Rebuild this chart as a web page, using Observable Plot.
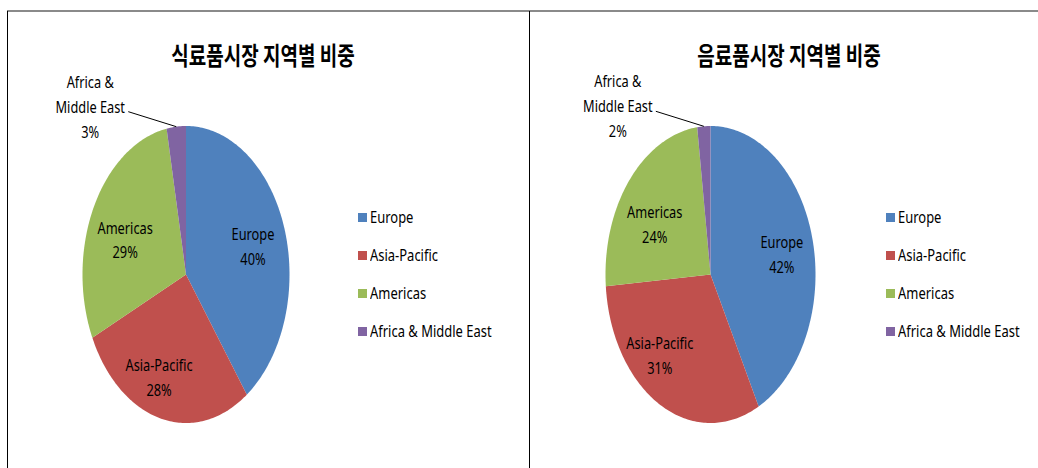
<!DOCTYPE html>
<html>
<head>
<meta charset="utf-8">
<script src="https://cdn.jsdelivr.net/npm/d3@7"></script>
<script src="https://cdn.jsdelivr.net/npm/@observablehq/plot@0.6"></script>
<style>
  body { margin: 0; background: #fff; }
  #page { position: relative; width: 1038px; height: 468px; overflow: hidden; background: #fff;
          font-family: "Noto Sans", "Noto Sans CJK KR", sans-serif; color: #000; }
  .topline { position: absolute; left: 7px; top: 10px; width: 1031px; height: 2px; background: #8a8a8a; }
  .vline { position: absolute; top: 11px; width: 1px; height: 457px; background: #000; }
  .panel { position: absolute; top: 0; }
  .title { position: absolute; top: 36px; font-family: "Noto Sans CJK KR", sans-serif; font-weight: bold;
           font-size: 25px; line-height: 36px; white-space: nowrap; transform: translateX(-50%) scaleX(0.76); }
  .legend-item { position: absolute; height: 20px; display: flex; align-items: center; }
  .legend-item .sw { width: 9px; height: 9px; margin-right: 3px; flex: none; }
  .legend-item .lb { font-size: 16px; white-space: nowrap; transform-origin: left center; transform: scaleX(0.81); }
</style>
</head>
<body>
<div id="page">
  <div class="topline"></div>
  <div class="vline" style="left:7px"></div>
  <div class="vline" style="left:529px"></div>
</div>
<script>
// ---- data ----
const regions = ["Europe", "Asia-Pacific", "Americas", "Africa & Middle East"];
const regionColors = ["#4F81BD", "#C0504D", "#9BBB59", "#8064A2"];
const foodShares = [40, 28, 29, 3];       // 식료품시장
const beverageShares = [42, 31, 24, 2];   // 음료품시장
const chartTitles = ["식료품시장 지역별 비중", "음료품시장 지역별 비중"];

// ---- layout ----
const W = 519, H = 468;
const panels = [
  { left: 0,   cx: 185.5, cy: 274, rx: 103.5, ry: 148.5, shares: foodShares,     title: chartTitles[0], titleX: 263, legendX: 358,
    nudge: [[2, 0], [-10, 6], [0, 8], [0, 0]] },
  { left: 519, cx: 191,   cy: 274, rx: 105,   ry: 148.5, shares: beverageShares, title: chartTitles[1], titleX: 789, legendX: 886,
    nudge: [[4, 1], [-17, -7], [-2, 10], [0, 0]] }
];
const legendRows = [217, 255, 293, 331];
const TEXT_SX = 0.8;
const LABEL_R = 0.66;

const page = document.getElementById("page");

for (const p of panels) {
  const total = d3.sum(p.shares);
  let cum = 0;
  const polys = [];
  const inLabels = [];
  const outLabels = [];
  const leaders = [];
  p.shares.forEach((v, i) => {
    const a0 = cum / total * 2 * Math.PI;
    cum += v;
    const a1 = cum / total * 2 * Math.PI;
    const n = Math.max(2, Math.ceil((a1 - a0) / (Math.PI / 180)));
    polys.push({ region: regions[i], x: 0, y: 0 });
    for (let k = 0; k <= n; k++) {
      const a = a0 + (a1 - a0) * k / n;
      polys.push({ region: regions[i], x: Math.sin(a), y: Math.cos(a) });
    }
    const am = (a0 + a1) / 2;
    if (v / total > 0.05) {
      inLabels.push({
        x: LABEL_R * Math.sin(am) + p.nudge[i][0] / p.rx,
        y: LABEL_R * Math.cos(am) - p.nudge[i][1] / p.ry,
        text: `${regions[i]}\n${v}%`
      });
    } else {
      const ex = Math.sin(am), ey = Math.cos(am);
      const name = regions[i].replace(" & ", " &\n");
      outLabels.push({ x: ex, y: ey, text: `${name}\n${v}%` });
      leaders.push({ x1: ex, y1: ey, x2: ex - 48 / p.rx, y2: ey + 15 / p.ry });
    }
  });

  const svg = Plot.plot({
    width: W, height: H, margin: 0,
    style: { fontFamily: "'Noto Sans', 'Noto Sans CJK KR', sans-serif", background: "transparent", color: "#000" },
    x: { domain: [-p.cx / p.rx, (W - p.cx) / p.rx], range: [0, W], axis: null },
    y: { domain: [p.cy / p.ry, (p.cy - H) / p.ry], range: [0, H], axis: null },
    color: { domain: regions, range: regionColors },
    marks: [
      Plot.line(polys, { x: "x", y: "y", z: "region", fill: "region", stroke: null, curve: "linear-closed" }),
      Plot.text(inLabels, { x: "x", y: "y", text: "text", fontSize: 16, lineHeight: 1.56, fill: "#000" }),
      Plot.link(leaders, { x1: "x1", y1: "y1", x2: "x2", y2: "y2", stroke: "#000", strokeWidth: 1 }),
      Plot.text(outLabels, { x: "x", y: "y", text: "text", fontSize: 16, lineHeight: 1.56, fill: "#000", dx: -86, dy: -22 })
    ]
  });
  // horizontally condense the label text like the original
  for (const t of svg.querySelectorAll("text")) {
    const x = t.getAttribute("x"), y = t.getAttribute("y");
    let tr = t.getAttribute("transform") || "";
    if (x != null || y != null) {
      tr += ` translate(${+x || 0},${+y || 0})`;
      t.removeAttribute("x"); t.removeAttribute("y");
    }
    t.setAttribute("transform", `${tr} scale(${TEXT_SX},1)`);
  }
  svg.classList.add("panel");
  svg.style.left = p.left + "px";
  page.appendChild(svg);

  const title = document.createElement("div");
  title.className = "title";
  title.style.left = p.titleX + "px";
  title.textContent = p.title;
  page.appendChild(title);

  regions.forEach((r, i) => {
    const item = document.createElement("div");
    item.className = "legend-item";
    item.style.left = p.legendX + "px";
    item.style.top = (legendRows[i] - 10) + "px";
    const sw = document.createElement("div");
    sw.className = "sw";
    sw.style.background = regionColors[i];
    const lb = document.createElement("div");
    lb.className = "lb";
    lb.textContent = r;
    item.appendChild(sw); item.appendChild(lb);
    page.appendChild(item);
  });
}
</script>
</body>
</html>
